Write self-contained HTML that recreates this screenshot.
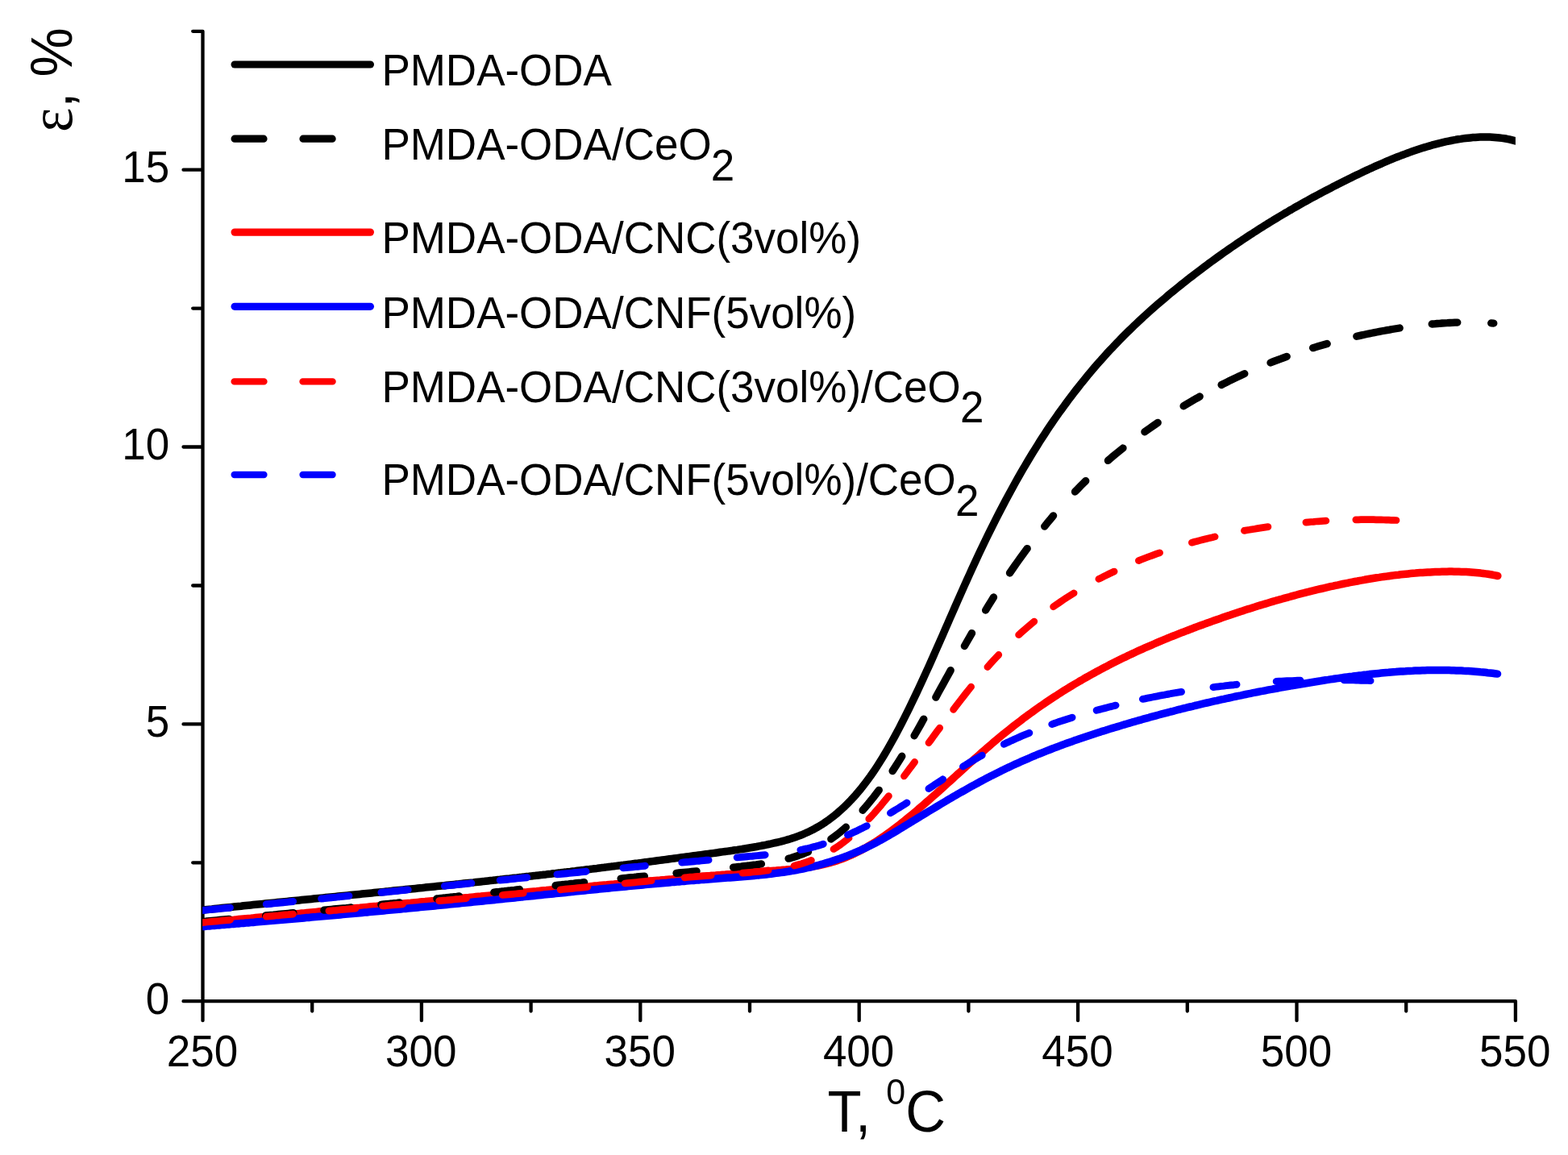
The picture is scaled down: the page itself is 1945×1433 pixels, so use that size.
<!DOCTYPE html>
<html lang="en"><head><meta charset="utf-8"><title>Thermomechanical curves</title>
<style>html,body{margin:0;padding:0;background:#fff}body{width:1945px;height:1433px;overflow:hidden}svg{display:block}text{font-family:"Liberation Sans",Arial,Helvetica,sans-serif;fill:#000}.sym{font-family:"Liberation Serif","DejaVu Serif",serif}</style></head><body>
<svg xmlns="http://www.w3.org/2000/svg" width="1945" height="1433" viewBox="0 0 1945 1433">
<rect x="0" y="0" width="1945" height="1433" fill="#fff"/>
<defs><clipPath id="plot"><rect x="251.2" y="0" width="1628.7" height="1433"/></clipPath></defs>
<path d="M251.5 38.8 L251.5 1242.2 M251.5 1242.2 L1879.9 1242.2 M251.5 1242.2 L251.5 1266.2 M387.2 1242.2 L387.2 1254.5 M522.9 1242.2 L522.9 1266.2 M658.6 1242.2 L658.6 1254.5 M794.3 1242.2 L794.3 1266.2 M930.0 1242.2 L930.0 1254.5 M1065.7 1242.2 L1065.7 1266.2 M1201.4 1242.2 L1201.4 1254.5 M1337.1 1242.2 L1337.1 1266.2 M1472.8 1242.2 L1472.8 1254.5 M1608.5 1242.2 L1608.5 1266.2 M1744.2 1242.2 L1744.2 1254.5 M1879.9 1242.2 L1879.9 1266.2 M251.5 1242.2 L227.5 1242.2 M251.5 1070.3 L239.2 1070.3 M251.5 898.4 L227.5 898.4 M251.5 726.5 L239.2 726.5 M251.5 554.5 L227.5 554.5 M251.5 382.6 L239.2 382.6 M251.5 210.7 L227.5 210.7 M251.5 38.8 L239.2 38.8" fill="none" stroke="#000" stroke-width="4.30" stroke-linecap="round" stroke-linejoin="round"/>
<g clip-path="url(#plot)" fill="none" stroke-linecap="round" stroke-linejoin="round">
<path d="M245.0 1129.7L248.0 1129.4L251.0 1129.1L254.0 1128.8L257.0 1128.5L260.0 1128.2L263.0 1127.9L266.0 1127.5L269.0 1127.2L272.0 1126.9L275.0 1126.6L278.0 1126.3L281.0 1126.0L284.0 1125.7L287.0 1125.4L290.0 1125.1L293.0 1124.8L296.0 1124.5L299.0 1124.2L302.0 1123.8L305.0 1123.5L308.0 1123.2L311.0 1122.9L314.0 1122.6L317.0 1122.3L320.0 1122.0L323.0 1121.7L326.0 1121.4L329.1 1121.1L332.1 1120.8L335.1 1120.5L338.1 1120.2L341.1 1119.9L344.1 1119.6L347.1 1119.3L350.1 1119.0L353.1 1118.7L356.1 1118.4L359.1 1118.1L362.1 1117.8L365.1 1117.5L368.1 1117.2L371.1 1116.9L374.1 1116.6L377.1 1116.3L380.1 1116.0L383.1 1115.7L386.1 1115.4L389.1 1115.1L392.1 1114.8L395.1 1114.5L398.1 1114.2L401.1 1113.9L404.1 1113.6L407.1 1113.3L410.1 1113.0L413.1 1112.7L416.1 1112.4L419.1 1112.1L422.1 1111.8L425.1 1111.5L428.1 1111.2L431.1 1110.9L434.1 1110.6L437.1 1110.3L440.1 1110.0L443.1 1109.7L446.1 1109.4L449.1 1109.1L452.1 1108.8L455.1 1108.5L458.1 1108.2L461.1 1107.9L464.1 1107.6L467.1 1107.3L470.1 1107.0L473.1 1106.7L476.1 1106.4L479.1 1106.1L482.1 1105.8L485.1 1105.4L488.1 1105.1L491.1 1104.8L494.2 1104.5L497.2 1104.2L500.2 1103.9L503.2 1103.6L506.2 1103.3L509.2 1103.0L512.2 1102.7L515.2 1102.4L518.2 1102.1L521.2 1101.8L524.2 1101.5L527.2 1101.1L530.2 1100.8L533.2 1100.5L536.2 1100.2L539.2 1099.9L542.2 1099.6L545.2 1099.3L548.2 1099.0L551.2 1098.7L554.2 1098.3L557.2 1098.0L560.2 1097.7L563.2 1097.4L566.2 1097.1L569.2 1096.8L572.2 1096.4L575.2 1096.1L578.2 1095.8L581.2 1095.5L584.2 1095.2L587.2 1094.9L590.2 1094.5L593.2 1094.2L596.2 1093.9L599.2 1093.6L602.2 1093.2L605.2 1092.9L608.2 1092.6L611.2 1092.3L614.2 1091.9L617.2 1091.6L620.2 1091.3L623.2 1090.9L626.2 1090.6L629.2 1090.3L632.2 1090.0L635.2 1089.6L638.2 1089.3L641.2 1089.0L644.2 1088.6L647.2 1088.3L650.2 1087.9L653.2 1087.6L656.2 1087.3L659.3 1086.9L662.3 1086.6L665.3 1086.2L668.3 1085.9L671.3 1085.6L674.3 1085.2L677.3 1084.9L680.3 1084.5L683.3 1084.2L686.3 1083.8L689.3 1083.5L692.3 1083.1L695.3 1082.8L698.3 1082.4L701.3 1082.1L704.3 1081.7L707.3 1081.4L710.3 1081.0L713.3 1080.7L716.3 1080.3L719.3 1079.9L722.3 1079.6L725.3 1079.2L728.3 1078.8L731.3 1078.5L734.3 1078.1L737.3 1077.7L740.3 1077.4L743.3 1077.0L746.3 1076.6L749.3 1076.3L752.3 1075.9L755.3 1075.5L758.3 1075.1L761.3 1074.8L764.3 1074.4L767.3 1074.0L770.3 1073.6L773.3 1073.3L776.3 1072.9L779.3 1072.5L782.3 1072.1L785.3 1071.7L788.3 1071.3L791.3 1071.0L794.3 1070.6L797.3 1070.2L800.3 1069.8L803.3 1069.4L806.3 1069.0L809.3 1068.6L812.3 1068.2L815.3 1067.8L818.3 1067.4L821.4 1067.0L824.4 1066.6L827.4 1066.2L830.4 1065.8L833.4 1065.4L836.4 1065.0L839.4 1064.6L842.4 1064.2L845.4 1063.8L848.4 1063.4L851.4 1063.0L854.4 1062.6L857.4 1062.2L860.4 1061.8L863.4 1061.4L866.4 1061.0L869.4 1060.6L872.4 1060.2L875.4 1059.8L878.4 1059.4L881.4 1059.0L884.4 1058.6L887.4 1058.2L890.4 1057.8L893.4 1057.3L896.4 1056.9L899.4 1056.5L902.4 1056.1L905.4 1055.7L908.4 1055.3L911.4 1054.8L914.4 1054.4L917.4 1053.9L920.4 1053.5L923.4 1053.0L926.4 1052.5L929.4 1052.0L932.4 1051.5L935.4 1051.0L938.4 1050.5L941.4 1049.9L944.4 1049.3L947.4 1048.8L950.4 1048.2L953.4 1047.5L956.4 1046.9L959.4 1046.2L962.4 1045.5L965.4 1044.8L968.4 1044.1L971.4 1043.3L974.4 1042.5L977.4 1041.6L980.4 1040.7L983.4 1039.7L986.5 1038.7L989.5 1037.6L992.5 1036.5L995.5 1035.3L998.5 1034.0L1001.5 1032.7L1004.5 1031.3L1007.5 1029.8L1010.5 1028.2L1013.5 1026.5L1016.5 1024.8L1019.5 1022.9L1022.5 1021.0L1025.5 1018.9L1028.5 1016.8L1031.5 1014.5L1034.5 1012.2L1037.5 1009.8L1040.5 1007.2L1043.5 1004.5L1046.5 1001.8L1049.5 998.9L1052.5 995.9L1055.5 992.8L1058.5 989.5L1061.5 986.2L1064.5 982.7L1067.5 979.1L1070.5 975.3L1073.5 971.4L1076.5 967.4L1079.5 963.3L1082.5 959.0L1085.5 954.6L1088.5 950.0L1091.5 945.3L1094.5 940.5L1097.5 935.5L1100.5 930.4L1103.5 925.2L1106.5 919.8L1109.5 914.4L1112.5 908.8L1115.5 903.1L1118.5 897.3L1121.5 891.4L1124.5 885.4L1127.5 879.3L1130.5 873.2L1133.5 866.9L1136.5 860.6L1139.5 854.2L1142.5 847.7L1145.5 841.2L1148.5 834.6L1151.6 827.9L1154.6 821.2L1157.6 814.5L1160.6 807.7L1163.6 800.9L1166.6 794.1L1169.6 787.3L1172.6 780.4L1175.6 773.6L1178.6 766.7L1181.6 759.9L1184.6 753.0L1187.6 746.2L1190.6 739.4L1193.6 732.6L1196.6 725.9L1199.6 719.2L1202.6 712.6L1205.6 706.0L1208.6 699.5L1211.6 693.0L1214.6 686.6L1217.6 680.3L1220.6 674.0L1223.6 667.8L1226.6 661.7L1229.6 655.6L1232.6 649.6L1235.6 643.6L1238.6 637.8L1241.6 632.0L1244.6 626.2L1247.6 620.5L1250.6 614.9L1253.6 609.4L1256.6 603.9L1259.6 598.5L1262.6 593.2L1265.6 587.9L1268.6 582.7L1271.6 577.6L1274.6 572.5L1277.6 567.5L1280.6 562.5L1283.6 557.7L1286.6 552.9L1289.6 548.1L1292.6 543.4L1295.6 538.8L1298.6 534.2L1301.6 529.7L1304.6 525.3L1307.6 520.9L1310.6 516.6L1313.6 512.3L1316.7 508.1L1319.7 504.0L1322.7 499.9L1325.7 495.8L1328.7 491.8L1331.7 487.9L1334.7 484.0L1337.7 480.2L1340.7 476.4L1343.7 472.7L1346.7 469.0L1349.7 465.3L1352.7 461.7L1355.7 458.2L1358.7 454.7L1361.7 451.2L1364.7 447.8L1367.7 444.5L1370.7 441.1L1373.7 437.8L1376.7 434.6L1379.7 431.4L1382.7 428.2L1385.7 425.1L1388.7 422.0L1391.7 418.9L1394.7 415.9L1397.7 412.9L1400.7 410.0L1403.7 407.1L1406.7 404.2L1409.7 401.3L1412.7 398.5L1415.7 395.7L1418.7 392.9L1421.7 390.2L1424.7 387.5L1427.7 384.8L1430.7 382.2L1433.7 379.5L1436.7 376.9L1439.7 374.3L1442.7 371.8L1445.7 369.3L1448.7 366.7L1451.7 364.2L1454.7 361.8L1457.7 359.3L1460.7 356.9L1463.7 354.5L1466.7 352.0L1469.7 349.7L1472.7 347.3L1475.7 344.9L1478.8 342.6L1481.8 340.3L1484.8 338.0L1487.8 335.7L1490.8 333.4L1493.8 331.2L1496.8 328.9L1499.8 326.7L1502.8 324.5L1505.8 322.3L1508.8 320.1L1511.8 318.0L1514.8 315.8L1517.8 313.7L1520.8 311.6L1523.8 309.5L1526.8 307.4L1529.8 305.4L1532.8 303.3L1535.8 301.3L1538.8 299.3L1541.8 297.2L1544.8 295.3L1547.8 293.3L1550.8 291.3L1553.8 289.4L1556.8 287.4L1559.8 285.5L1562.8 283.6L1565.8 281.7L1568.8 279.8L1571.8 277.9L1574.8 276.1L1577.8 274.2L1580.8 272.4L1583.8 270.6L1586.8 268.8L1589.8 267.0L1592.8 265.2L1595.8 263.5L1598.8 261.7L1601.8 260.0L1604.8 258.2L1607.8 256.5L1610.8 254.8L1613.8 253.1L1616.8 251.4L1619.8 249.8L1622.8 248.1L1625.8 246.4L1628.8 244.8L1631.8 243.2L1634.8 241.6L1637.8 240.0L1640.8 238.4L1643.9 236.8L1646.9 235.2L1649.9 233.7L1652.9 232.1L1655.9 230.6L1658.9 229.0L1661.9 227.5L1664.9 226.0L1667.9 224.5L1670.9 223.0L1673.9 221.5L1676.9 220.1L1679.9 218.6L1682.9 217.1L1685.9 215.7L1688.9 214.3L1691.9 212.8L1694.9 211.4L1697.9 210.0L1700.9 208.7L1703.9 207.3L1706.9 205.9L1709.9 204.6L1712.9 203.3L1715.9 202.0L1718.9 200.7L1721.9 199.4L1724.9 198.2L1727.9 196.9L1730.9 195.7L1733.9 194.5L1736.9 193.4L1739.9 192.2L1742.9 191.1L1745.9 190.0L1748.9 188.9L1751.9 187.8L1754.9 186.8L1757.9 185.8L1760.9 184.8L1763.9 183.8L1766.9 182.9L1769.9 182.0L1772.9 181.1L1775.9 180.2L1778.9 179.4L1781.9 178.6L1784.9 177.8L1787.9 177.1L1790.9 176.4L1793.9 175.7L1796.9 175.1L1799.9 174.5L1802.9 173.9L1805.9 173.3L1809.0 172.8L1812.0 172.4L1815.0 171.9L1818.0 171.5L1821.0 171.2L1824.0 170.9L1827.0 170.6L1830.0 170.4L1833.0 170.2L1836.0 170.1L1839.0 170.0L1842.0 170.0L1845.0 170.0L1848.0 170.1L1851.0 170.2L1854.0 170.4L1857.0 170.7L1860.0 171.0L1863.0 171.4L1866.0 171.8L1869.0 172.3L1872.0 172.9L1875.0 173.6L1878.0 174.3L1881.0 175.1L1884.0 175.9L1887.0 176.8L1890.0 177.9" stroke="#000" stroke-width="9.50"/>
<path d="M245.0 1145.4L248.0 1145.2L251.0 1144.9L254.0 1144.6L257.0 1144.3L260.0 1144.0L263.0 1143.7L266.0 1143.4L269.0 1143.2L272.0 1142.9L275.0 1142.6L278.0 1142.3L281.0 1142.0L284.0 1141.7L287.0 1141.4L290.1 1141.2L293.1 1140.9L296.1 1140.6L299.1 1140.3L302.1 1140.0L305.1 1139.7L308.1 1139.4L311.1 1139.2L314.1 1138.9L317.1 1138.6L320.1 1138.3L323.1 1138.0L326.1 1137.7L329.1 1137.4L332.1 1137.2L335.1 1136.9L338.1 1136.6L341.1 1136.3L344.1 1136.0L347.1 1135.7L350.1 1135.4L353.1 1135.2L356.1 1134.9L359.1 1134.6L362.1 1134.3L365.1 1134.0L368.1 1133.7L371.1 1133.4L374.1 1133.1L377.2 1132.9L380.2 1132.6L383.2 1132.3L386.2 1132.0L389.2 1131.7L392.2 1131.4L395.2 1131.1L398.2 1130.8L401.2 1130.6L404.2 1130.3L407.2 1130.0L410.2 1129.7L413.2 1129.4L416.2 1129.1L419.2 1128.8L422.2 1128.6L425.2 1128.3L428.2 1128.0L431.2 1127.7L434.2 1127.4L437.2 1127.1L440.2 1126.8L443.2 1126.5L446.2 1126.3L449.2 1126.0L452.2 1125.7L455.2 1125.4L458.2 1125.1L461.2 1124.8L464.3 1124.5L467.3 1124.3L470.3 1124.0L473.3 1123.7L476.3 1123.4L479.3 1123.1L482.3 1122.8L485.3 1122.5L488.3 1122.3L491.3 1122.0L494.3 1121.7L497.3 1121.4L500.3 1121.1L503.3 1120.8L506.3 1120.5L509.3 1120.3L512.3 1120.0L515.3 1119.7L518.3 1119.4L521.3 1119.1L524.3 1118.8L527.3 1118.6L530.3 1118.3L533.3 1118.0L536.3 1117.7L539.3 1117.4L542.3 1117.1L545.3 1116.9L548.3 1116.6L551.4 1116.3L554.4 1116.0L557.4 1115.7L560.4 1115.4L563.4 1115.2L566.4 1114.9L569.4 1114.6L572.4 1114.3L575.4 1114.0L578.4 1113.7L581.4 1113.5L584.4 1113.2L587.4 1112.9L590.4 1112.6L593.4 1112.3L596.4 1112.1L599.4 1111.8L602.4 1111.5L605.4 1111.2L608.4 1110.9L611.4 1110.7L614.4 1110.4L617.4 1110.1L620.4 1109.8L623.4 1109.5L626.4 1109.3L629.4 1109.0L632.4 1108.7L635.4 1108.4L638.5 1108.2L641.5 1107.9L644.5 1107.6L647.5 1107.3L650.5 1107.0L653.5 1106.8L656.5 1106.5L659.5 1106.2L662.5 1105.9L665.5 1105.7L668.5 1105.4L671.5 1105.1L674.5 1104.8L677.5 1104.6L680.5 1104.3L683.5 1104.0L686.5 1103.7L689.5 1103.5L692.5 1103.2L695.5 1102.9L698.5 1102.6L701.5 1102.4L704.5 1102.1L707.5 1101.8L710.5 1101.6L713.5 1101.3L716.5 1101.0L719.5 1100.7L722.5 1100.5L725.6 1100.2L728.6 1099.9L731.6 1099.7L734.6 1099.4L737.6 1099.1L740.6 1098.9L743.6 1098.6L746.6 1098.3L749.6 1098.0L752.6 1097.8L755.6 1097.5L758.6 1097.2L761.6 1097.0L764.6 1096.7L767.6 1096.4L770.6 1096.2L773.6 1095.9L776.6 1095.6L779.6 1095.4L782.6 1095.1L785.6 1094.9L788.6 1094.6L791.6 1094.3L794.6 1094.1L797.6 1093.8L800.6 1093.5L803.6 1093.3L806.6 1093.0L809.6 1092.8L812.7 1092.5L815.7 1092.2L818.7 1092.0L821.7 1091.7L824.7 1091.5L827.7 1091.2L830.7 1090.9L833.7 1090.7L836.7 1090.4L839.7 1090.2L842.7 1089.9L845.7 1089.6L848.7 1089.4L851.7 1089.1L854.7 1088.9L857.7 1088.6L860.7 1088.4L863.7 1088.1L866.7 1087.9L869.7 1087.6L872.7 1087.3L875.7 1087.1L878.7 1086.8L881.7 1086.6L884.7 1086.3L887.7 1086.1L890.7 1085.8L893.7 1085.6L896.7 1085.3L899.8 1085.1L902.8 1084.8L905.8 1084.6L908.8 1084.3L911.8 1084.1L914.8 1083.8L917.8 1083.6L920.8 1083.4L923.8 1083.1L926.8 1082.9L929.8 1082.6L932.8 1082.4L935.8 1082.1L938.8 1081.9L941.8 1081.6L944.8 1081.4L947.8 1081.2L950.8 1080.9L953.8 1080.7L956.8 1080.4L959.8 1080.2L962.8 1080.0L965.8 1079.7L968.8 1079.5L971.8 1079.2L974.8 1079.0L977.8 1078.7L980.8 1078.5L983.8 1078.2L986.9 1077.9L989.9 1077.6L992.9 1077.2L995.9 1076.9L998.9 1076.5L1001.9 1076.1L1004.9 1075.6L1007.9 1075.2L1010.9 1074.6L1013.9 1074.1L1016.9 1073.5L1019.9 1072.9L1022.9 1072.2L1025.9 1071.4L1028.9 1070.7L1031.9 1069.8L1034.9 1068.9L1037.9 1068.0L1040.9 1066.9L1043.9 1065.8L1046.9 1064.7L1049.9 1063.5L1052.9 1062.2L1055.9 1060.9L1058.9 1059.5L1061.9 1058.0L1064.9 1056.5L1067.9 1055.0L1070.9 1053.3L1074.0 1051.7L1077.0 1049.9L1080.0 1048.1L1083.0 1046.3L1086.0 1044.4L1089.0 1042.5L1092.0 1040.5L1095.0 1038.4L1098.0 1036.3L1101.0 1034.2L1104.0 1032.0L1107.0 1029.8L1110.0 1027.5L1113.0 1025.2L1116.0 1022.9L1119.0 1020.6L1122.0 1018.2L1125.0 1015.7L1128.0 1013.3L1131.0 1010.8L1134.0 1008.3L1137.0 1005.8L1140.0 1003.2L1143.0 1000.7L1146.0 998.1L1149.0 995.4L1152.0 992.8L1155.0 990.2L1158.0 987.5L1161.1 984.8L1164.1 982.1L1167.1 979.5L1170.1 976.7L1173.1 974.0L1176.1 971.3L1179.1 968.6L1182.1 965.9L1185.1 963.1L1188.1 960.4L1191.1 957.7L1194.1 955.0L1197.1 952.2L1200.1 949.5L1203.1 946.8L1206.1 944.1L1209.1 941.4L1212.1 938.7L1215.1 936.1L1218.1 933.4L1221.1 930.8L1224.1 928.2L1227.1 925.6L1230.1 923.0L1233.1 920.4L1236.1 917.9L1239.1 915.4L1242.1 912.9L1245.1 910.4L1248.2 908.0L1251.2 905.6L1254.2 903.2L1257.2 900.8L1260.2 898.5L1263.2 896.2L1266.2 893.9L1269.2 891.6L1272.2 889.4L1275.2 887.2L1278.2 885.0L1281.2 882.8L1284.2 880.7L1287.2 878.5L1290.2 876.4L1293.2 874.4L1296.2 872.3L1299.2 870.3L1302.2 868.3L1305.2 866.3L1308.2 864.3L1311.2 862.4L1314.2 860.4L1317.2 858.5L1320.2 856.6L1323.2 854.8L1326.2 852.9L1329.2 851.1L1332.2 849.3L1335.3 847.5L1338.3 845.7L1341.3 844.0L1344.3 842.2L1347.3 840.5L1350.3 838.8L1353.3 837.1L1356.3 835.5L1359.3 833.8L1362.3 832.2L1365.3 830.6L1368.3 829.0L1371.3 827.4L1374.3 825.9L1377.3 824.3L1380.3 822.8L1383.3 821.3L1386.3 819.8L1389.3 818.3L1392.3 816.8L1395.3 815.4L1398.3 813.9L1401.3 812.5L1404.3 811.1L1407.3 809.7L1410.3 808.3L1413.3 806.9L1416.3 805.6L1419.3 804.2L1422.4 802.9L1425.4 801.6L1428.4 800.3L1431.4 799.0L1434.4 797.7L1437.4 796.4L1440.4 795.1L1443.4 793.9L1446.4 792.7L1449.4 791.4L1452.4 790.2L1455.4 789.0L1458.4 787.8L1461.4 786.6L1464.4 785.4L1467.4 784.3L1470.4 783.1L1473.4 782.0L1476.4 780.8L1479.4 779.7L1482.4 778.5L1485.4 777.4L1488.4 776.3L1491.4 775.2L1494.4 774.1L1497.4 773.0L1500.4 772.0L1503.4 770.9L1506.4 769.8L1509.5 768.7L1512.5 767.7L1515.5 766.6L1518.5 765.6L1521.5 764.6L1524.5 763.6L1527.5 762.5L1530.5 761.5L1533.5 760.5L1536.5 759.5L1539.5 758.5L1542.5 757.6L1545.5 756.6L1548.5 755.6L1551.5 754.7L1554.5 753.7L1557.5 752.8L1560.5 751.8L1563.5 750.9L1566.5 750.0L1569.5 749.1L1572.5 748.2L1575.5 747.3L1578.5 746.4L1581.5 745.5L1584.5 744.7L1587.5 743.8L1590.5 743.0L1593.5 742.1L1596.6 741.3L1599.6 740.5L1602.6 739.6L1605.6 738.8L1608.6 738.0L1611.6 737.2L1614.6 736.4L1617.6 735.7L1620.6 734.9L1623.6 734.2L1626.6 733.4L1629.6 732.7L1632.6 731.9L1635.6 731.2L1638.6 730.5L1641.6 729.8L1644.6 729.1L1647.6 728.4L1650.6 727.7L1653.6 727.1L1656.6 726.4L1659.6 725.8L1662.6 725.1L1665.6 724.5L1668.6 723.9L1671.6 723.3L1674.6 722.7L1677.6 722.1L1680.6 721.5L1683.7 721.0L1686.7 720.4L1689.7 719.9L1692.7 719.3L1695.7 718.8L1698.7 718.3L1701.7 717.8L1704.7 717.3L1707.7 716.8L1710.7 716.4L1713.7 715.9L1716.7 715.5L1719.7 715.1L1722.7 714.7L1725.7 714.3L1728.7 713.9L1731.7 713.5L1734.7 713.2L1737.7 712.8L1740.7 712.5L1743.7 712.2L1746.7 711.9L1749.7 711.6L1752.7 711.3L1755.7 711.1L1758.7 710.8L1761.7 710.6L1764.7 710.4L1767.7 710.2L1770.8 710.0L1773.8 709.9L1776.8 709.7L1779.8 709.6L1782.8 709.5L1785.8 709.4L1788.8 709.3L1791.8 709.2L1794.8 709.2L1797.8 709.1L1800.8 709.1L1803.8 709.2L1806.8 709.2L1809.8 709.3L1812.8 709.4L1815.8 709.5L1818.8 709.6L1821.8 709.8L1824.8 710.0L1827.8 710.2L1830.8 710.5L1833.8 710.8L1836.8 711.1L1839.8 711.5L1842.8 711.9L1845.8 712.3L1848.8 712.8L1851.8 713.3L1854.8 713.9L1857.8 714.5" stroke="#f00" stroke-width="9.50"/>
<path d="M245.0 1150.1L248.0 1149.9L251.0 1149.6L254.0 1149.4L257.0 1149.1L260.0 1148.9L263.0 1148.6L266.0 1148.4L269.0 1148.1L272.0 1147.9L275.0 1147.6L278.0 1147.4L281.0 1147.1L284.0 1146.9L287.0 1146.6L290.0 1146.4L293.0 1146.1L296.0 1145.9L299.0 1145.6L302.1 1145.4L305.1 1145.1L308.1 1144.9L311.1 1144.6L314.1 1144.4L317.1 1144.1L320.1 1143.8L323.1 1143.6L326.1 1143.3L329.1 1143.1L332.1 1142.8L335.1 1142.6L338.1 1142.3L341.1 1142.0L344.1 1141.8L347.1 1141.5L350.1 1141.3L353.1 1141.0L356.1 1140.7L359.1 1140.5L362.1 1140.2L365.1 1140.0L368.1 1139.7L371.1 1139.4L374.1 1139.2L377.1 1138.9L380.1 1138.6L383.1 1138.4L386.1 1138.1L389.1 1137.8L392.1 1137.6L395.1 1137.3L398.1 1137.0L401.1 1136.8L404.1 1136.5L407.1 1136.2L410.1 1136.0L413.2 1135.7L416.2 1135.4L419.2 1135.2L422.2 1134.9L425.2 1134.6L428.2 1134.3L431.2 1134.1L434.2 1133.8L437.2 1133.5L440.2 1133.2L443.2 1133.0L446.2 1132.7L449.2 1132.4L452.2 1132.1L455.2 1131.9L458.2 1131.6L461.2 1131.3L464.2 1131.0L467.2 1130.8L470.2 1130.5L473.2 1130.2L476.2 1129.9L479.2 1129.6L482.2 1129.3L485.2 1129.1L488.2 1128.8L491.2 1128.5L494.2 1128.2L497.2 1127.9L500.2 1127.6L503.2 1127.4L506.2 1127.1L509.2 1126.8L512.2 1126.5L515.2 1126.2L518.2 1125.9L521.2 1125.6L524.3 1125.3L527.3 1125.0L530.3 1124.8L533.3 1124.5L536.3 1124.2L539.3 1123.9L542.3 1123.6L545.3 1123.3L548.3 1123.0L551.3 1122.7L554.3 1122.4L557.3 1122.1L560.3 1121.8L563.3 1121.5L566.3 1121.2L569.3 1120.9L572.3 1120.6L575.3 1120.3L578.3 1120.0L581.3 1119.7L584.3 1119.4L587.3 1119.1L590.3 1118.8L593.3 1118.5L596.3 1118.2L599.3 1117.9L602.3 1117.6L605.3 1117.3L608.3 1117.0L611.3 1116.7L614.3 1116.4L617.3 1116.0L620.3 1115.7L623.3 1115.4L626.3 1115.1L629.3 1114.8L632.3 1114.5L635.4 1114.2L638.4 1113.9L641.4 1113.6L644.4 1113.3L647.4 1112.9L650.4 1112.6L653.4 1112.3L656.4 1112.0L659.4 1111.7L662.4 1111.4L665.4 1111.1L668.4 1110.8L671.4 1110.5L674.4 1110.1L677.4 1109.8L680.4 1109.5L683.4 1109.2L686.4 1108.9L689.4 1108.6L692.4 1108.3L695.4 1108.0L698.4 1107.7L701.4 1107.4L704.4 1107.1L707.4 1106.8L710.4 1106.4L713.4 1106.1L716.4 1105.8L719.4 1105.5L722.4 1105.2L725.4 1104.9L728.4 1104.6L731.4 1104.3L734.4 1104.0L737.4 1103.7L740.4 1103.4L743.4 1103.1L746.5 1102.8L749.5 1102.5L752.5 1102.2L755.5 1101.9L758.5 1101.6L761.5 1101.3L764.5 1101.0L767.5 1100.7L770.5 1100.5L773.5 1100.2L776.5 1099.9L779.5 1099.6L782.5 1099.3L785.5 1099.0L788.5 1098.7L791.5 1098.5L794.5 1098.2L797.5 1097.9L800.5 1097.6L803.5 1097.3L806.5 1097.1L809.5 1096.8L812.5 1096.5L815.5 1096.2L818.5 1096.0L821.5 1095.7L824.5 1095.4L827.5 1095.2L830.5 1094.9L833.5 1094.6L836.5 1094.4L839.5 1094.1L842.5 1093.9L845.5 1093.6L848.5 1093.4L851.5 1093.1L854.5 1092.8L857.6 1092.6L860.6 1092.4L863.6 1092.1L866.6 1091.9L869.6 1091.6L872.6 1091.4L875.6 1091.2L878.6 1090.9L881.6 1090.7L884.6 1090.5L887.6 1090.2L890.6 1090.0L893.6 1089.8L896.6 1089.6L899.6 1089.3L902.6 1089.1L905.6 1088.9L908.6 1088.7L911.6 1088.4L914.6 1088.2L917.6 1088.0L920.6 1087.7L923.6 1087.5L926.6 1087.2L929.6 1087.0L932.6 1086.7L935.6 1086.4L938.6 1086.1L941.6 1085.9L944.6 1085.5L947.6 1085.2L950.6 1084.9L953.6 1084.6L956.6 1084.2L959.6 1083.8L962.6 1083.4L965.6 1083.0L968.7 1082.6L971.7 1082.2L974.7 1081.7L977.7 1081.3L980.7 1080.8L983.7 1080.2L986.7 1079.7L989.7 1079.2L992.7 1078.6L995.7 1078.0L998.7 1077.3L1001.7 1076.7L1004.7 1076.0L1007.7 1075.3L1010.7 1074.5L1013.7 1073.8L1016.7 1073.0L1019.7 1072.2L1022.7 1071.3L1025.7 1070.4L1028.7 1069.5L1031.7 1068.6L1034.7 1067.6L1037.7 1066.6L1040.7 1065.6L1043.7 1064.5L1046.7 1063.4L1049.7 1062.3L1052.7 1061.1L1055.7 1059.9L1058.7 1058.7L1061.7 1057.4L1064.7 1056.1L1067.7 1054.8L1070.7 1053.4L1073.7 1052.0L1076.7 1050.5L1079.8 1049.0L1082.8 1047.5L1085.8 1046.0L1088.8 1044.4L1091.8 1042.7L1094.8 1041.1L1097.8 1039.4L1100.8 1037.7L1103.8 1035.9L1106.8 1034.2L1109.8 1032.4L1112.8 1030.6L1115.8 1028.8L1118.8 1027.0L1121.8 1025.1L1124.8 1023.3L1127.8 1021.5L1130.8 1019.6L1133.8 1017.8L1136.8 1015.9L1139.8 1014.1L1142.8 1012.3L1145.8 1010.4L1148.8 1008.6L1151.8 1006.8L1154.8 1005.0L1157.8 1003.2L1160.8 1001.4L1163.8 999.6L1166.8 997.8L1169.8 996.0L1172.8 994.2L1175.8 992.4L1178.8 990.7L1181.8 988.9L1184.8 987.2L1187.8 985.4L1190.9 983.7L1193.9 982.0L1196.9 980.3L1199.9 978.6L1202.9 976.9L1205.9 975.2L1208.9 973.6L1211.9 972.0L1214.9 970.3L1217.9 968.7L1220.9 967.1L1223.9 965.5L1226.9 964.0L1229.9 962.4L1232.9 960.9L1235.9 959.4L1238.9 957.9L1241.9 956.4L1244.9 955.0L1247.9 953.5L1250.9 952.1L1253.9 950.7L1256.9 949.3L1259.9 947.9L1262.9 946.6L1265.9 945.2L1268.9 943.9L1271.9 942.6L1274.9 941.3L1277.9 940.0L1280.9 938.7L1283.9 937.5L1286.9 936.2L1289.9 935.0L1292.9 933.8L1295.9 932.6L1298.9 931.4L1302.0 930.2L1305.0 929.0L1308.0 927.9L1311.0 926.8L1314.0 925.6L1317.0 924.5L1320.0 923.4L1323.0 922.3L1326.0 921.2L1329.0 920.2L1332.0 919.1L1335.0 918.1L1338.0 917.0L1341.0 916.0L1344.0 915.0L1347.0 914.0L1350.0 913.0L1353.0 912.0L1356.0 911.0L1359.0 910.0L1362.0 909.0L1365.0 908.1L1368.0 907.1L1371.0 906.2L1374.0 905.2L1377.0 904.3L1380.0 903.4L1383.0 902.5L1386.0 901.6L1389.0 900.7L1392.0 899.8L1395.0 898.9L1398.0 898.0L1401.0 897.1L1404.0 896.2L1407.0 895.4L1410.0 894.5L1413.1 893.6L1416.1 892.8L1419.1 891.9L1422.1 891.1L1425.1 890.3L1428.1 889.4L1431.1 888.6L1434.1 887.8L1437.1 887.0L1440.1 886.2L1443.1 885.4L1446.1 884.6L1449.1 883.8L1452.1 883.0L1455.1 882.3L1458.1 881.5L1461.1 880.7L1464.1 880.0L1467.1 879.2L1470.1 878.5L1473.1 877.7L1476.1 877.0L1479.1 876.3L1482.1 875.5L1485.1 874.8L1488.1 874.1L1491.1 873.4L1494.1 872.7L1497.1 872.0L1500.1 871.3L1503.1 870.6L1506.1 869.9L1509.1 869.3L1512.1 868.6L1515.1 867.9L1518.1 867.3L1521.1 866.6L1524.2 866.0L1527.2 865.3L1530.2 864.7L1533.2 864.0L1536.2 863.4L1539.2 862.8L1542.2 862.1L1545.2 861.5L1548.2 860.9L1551.2 860.3L1554.2 859.7L1557.2 859.1L1560.2 858.5L1563.2 857.9L1566.2 857.4L1569.2 856.8L1572.2 856.2L1575.2 855.6L1578.2 855.1L1581.2 854.5L1584.2 854.0L1587.2 853.4L1590.2 852.9L1593.2 852.3L1596.2 851.8L1599.2 851.3L1602.2 850.7L1605.2 850.2L1608.2 849.7L1611.2 849.2L1614.2 848.7L1617.2 848.2L1620.2 847.7L1623.2 847.2L1626.2 846.7L1629.2 846.2L1632.2 845.7L1635.3 845.2L1638.3 844.8L1641.3 844.3L1644.3 843.8L1647.3 843.4L1650.3 842.9L1653.3 842.5L1656.3 842.0L1659.3 841.6L1662.3 841.2L1665.3 840.8L1668.3 840.3L1671.3 839.9L1674.3 839.5L1677.3 839.2L1680.3 838.8L1683.3 838.4L1686.3 838.0L1689.3 837.7L1692.3 837.3L1695.3 837.0L1698.3 836.6L1701.3 836.3L1704.3 836.0L1707.3 835.7L1710.3 835.4L1713.3 835.1L1716.3 834.8L1719.3 834.5L1722.3 834.3L1725.3 834.0L1728.3 833.8L1731.3 833.6L1734.3 833.3L1737.3 833.1L1740.3 832.9L1743.3 832.8L1746.4 832.6L1749.4 832.4L1752.4 832.3L1755.4 832.1L1758.4 832.0L1761.4 831.9L1764.4 831.8L1767.4 831.7L1770.4 831.6L1773.4 831.6L1776.4 831.5L1779.4 831.5L1782.4 831.5L1785.4 831.5L1788.4 831.5L1791.4 831.5L1794.4 831.6L1797.4 831.6L1800.4 831.7L1803.4 831.8L1806.4 831.9L1809.4 832.0L1812.4 832.1L1815.4 832.3L1818.4 832.4L1821.4 832.6L1824.4 832.8L1827.4 833.0L1830.4 833.2L1833.4 833.5L1836.4 833.8L1839.4 834.0L1842.4 834.3L1845.4 834.7L1848.4 835.0L1851.4 835.3L1854.4 835.7L1857.5 836.1" stroke="#00f" stroke-width="9.50"/>
<path d="M247.7 1143.9L250.7 1143.6L253.7 1143.3L256.8 1143.0L259.8 1142.7L262.9 1142.4L265.9 1142.1L268.9 1141.8L272.0 1141.5L275.0 1141.2L278.1 1140.9L281.1 1140.6L284.2 1140.3 M329.6 1135.9L332.8 1135.6L335.9 1135.3L339.0 1135.1L342.1 1134.8L345.2 1134.5L348.3 1134.2L351.4 1133.9L354.5 1133.6L357.6 1133.3L360.7 1133.0L363.9 1132.7 M401.9 1129.2L405.0 1128.9L408.0 1128.6L411.1 1128.3L414.1 1128.0L417.1 1127.7L420.2 1127.4L423.2 1127.1L426.2 1126.8L429.3 1126.6L432.3 1126.3L435.4 1126.0 M472.8 1122.3L476.1 1121.9L479.3 1121.6L482.6 1121.3L485.8 1121.0L489.1 1120.6L492.3 1120.3L495.6 1119.9 M541.9 1115.0L544.9 1114.7L548.0 1114.3L551.1 1114.0L554.2 1113.6L557.2 1113.3L560.3 1113.0L563.4 1112.6L566.5 1112.3L569.6 1111.9 M612.8 1107.1L615.9 1106.7L619.1 1106.4L622.2 1106.0L625.4 1105.7L628.5 1105.3L631.7 1105.0L634.9 1104.6L638.0 1104.3L641.2 1103.9L644.4 1103.5 M689.1 1098.6L692.4 1098.2L695.6 1097.8L698.8 1097.5L702.0 1097.1L705.2 1096.8L708.5 1096.4L711.7 1096.1L714.9 1095.7L718.1 1095.4L721.3 1095.1L724.6 1094.7 M770.1 1090.0L773.4 1089.6L776.6 1089.3L779.9 1089.0L783.1 1088.7L786.4 1088.4L789.6 1088.0L792.9 1087.7L796.1 1087.4L799.4 1087.1 M839.0 1083.3L842.2 1083.0L845.3 1082.7L848.5 1082.4L851.6 1082.1L854.7 1081.8L857.9 1081.5L861.0 1081.2L864.1 1080.9 M909.6 1076.2L912.8 1075.8L916.0 1075.4L919.1 1075.1L922.3 1074.7L925.4 1074.3L928.6 1074.0L931.7 1073.6L934.9 1073.2L938.0 1072.8L941.2 1072.3L944.4 1071.9 M978.1 1065.2L981.2 1064.4L984.2 1063.5L987.3 1062.5L990.3 1061.5L993.3 1060.4L996.4 1059.3L999.4 1058.0L1002.5 1056.8 M1030.8 1041.0L1033.9 1038.8L1037.0 1036.5L1040.1 1034.1L1043.2 1031.6L1046.3 1028.9L1049.4 1026.2 M1070.1 1005.3L1073.4 1001.4L1076.8 997.4L1080.2 993.3L1083.6 989.1L1087.0 984.7L1090.3 980.3 M1107.1 956.6L1111.0 950.6L1114.9 944.5L1118.8 938.2 M1134.1 912.8L1138.0 906.0L1141.9 899.1L1145.8 892.1 M1160.8 865.2L1163.8 859.6L1166.9 854.0L1170.0 848.4L1173.1 842.8L1176.2 837.3L1179.2 831.7 M1196.4 801.5L1199.4 796.2L1202.5 790.9L1205.5 785.6 M1222.6 757.1L1225.9 751.7L1229.2 746.3L1232.5 741.0 M1252.5 711.0L1255.6 706.5L1258.7 702.0L1261.8 697.6L1264.9 693.3L1268.0 689.0L1271.1 684.8L1274.2 680.6 M1295.7 653.1L1299.3 648.6L1303.0 644.2L1306.6 639.8 M1333.5 610.1L1336.8 606.7L1340.1 603.3L1343.4 600.0L1346.8 596.7 M1374.4 571.4L1377.5 568.8L1380.6 566.1L1383.7 563.5L1386.8 561.0L1389.9 558.5L1393.0 556.0 M1419.9 535.8L1423.1 533.5L1426.4 531.2L1429.7 528.9L1433.0 526.6L1436.2 524.4 M1468.1 503.8L1471.4 501.8L1474.8 499.8L1478.2 497.8L1481.5 495.8L1484.9 493.9L1488.2 491.9 M1515.1 477.5L1518.3 475.9L1521.5 474.3L1524.7 472.7L1527.9 471.1L1531.0 469.6L1534.2 468.1L1537.5 466.6L1540.6 465.1L1543.8 463.6 M1576.0 450.0L1579.3 448.7L1582.7 447.4L1586.1 446.1L1589.5 444.9L1592.9 443.6L1596.2 442.4 M1628.6 431.7L1632.1 430.6L1635.6 429.5L1639.2 428.5L1642.7 427.5L1646.2 426.5 M1682.8 417.3L1685.9 416.6L1689.0 415.9L1692.2 415.2L1695.3 414.5L1698.5 413.9L1701.6 413.2L1704.8 412.6L1707.9 412.0L1711.1 411.4L1714.2 410.8L1717.4 410.2L1720.5 409.6L1723.7 409.1L1726.8 408.5L1730.0 408.0L1733.1 407.5L1736.2 407.0 M1776.2 402.0L1779.4 401.8L1782.5 401.5L1785.7 401.3L1788.8 401.0L1792.0 400.8L1795.2 400.7L1798.3 400.5L1801.5 400.4L1804.6 400.2L1807.8 400.1 M1849.7 400.9L1852.8 401.1" stroke="#000" stroke-width="9.30"/>
<path d="M247.3 1144.9L250.5 1144.6L253.7 1144.3L256.9 1144.0L260.1 1143.7L263.3 1143.4L266.4 1143.1L269.6 1142.8L272.8 1142.5L276.0 1142.2L279.2 1141.9L282.4 1141.6L285.5 1141.3 M330.2 1137.2L333.3 1136.9L336.3 1136.6L339.4 1136.3L342.4 1136.0L345.4 1135.8L348.5 1135.5L351.5 1135.2L354.5 1134.9L357.6 1134.7L360.6 1134.4L363.6 1134.1 M407.9 1130.1L410.9 1129.8L413.9 1129.5L416.9 1129.3L419.9 1129.0L422.9 1128.7L426.0 1128.4L429.0 1128.2L432.0 1127.9L435.0 1127.6L438.0 1127.3L441.0 1127.1 M474.5 1124.0L477.6 1123.8L480.8 1123.5L483.9 1123.2L487.1 1122.9L490.2 1122.6L493.4 1122.3L496.5 1122.1L499.6 1121.8 M544.6 1117.7L547.7 1117.4L550.8 1117.1L553.8 1116.9L556.9 1116.6L560.0 1116.3L563.0 1116.0L566.1 1115.7L569.2 1115.5L572.2 1115.2L575.3 1114.9L578.4 1114.6 M623.2 1110.5L626.5 1110.2L629.8 1109.9L633.0 1109.6L636.2 1109.3L639.5 1109.0L642.8 1108.7L646.0 1108.4L649.2 1108.1 M695.1 1103.8L698.1 1103.5L701.2 1103.2L704.2 1102.9L707.3 1102.6L710.4 1102.3L713.4 1102.0L716.5 1101.7L719.6 1101.4L722.6 1101.1L725.7 1100.8L728.8 1100.5 M775.1 1096.0L778.1 1095.7L781.1 1095.4L784.1 1095.1L787.1 1094.8L790.1 1094.5L793.1 1094.2L796.1 1093.9L799.1 1093.6L802.1 1093.3L805.1 1093.0L808.1 1092.7 M849.2 1088.8L852.5 1088.5L855.8 1088.2L859.1 1088.0L862.4 1087.7L865.7 1087.4L869.0 1087.2L872.3 1086.9L875.6 1086.6L878.9 1086.4L882.1 1086.2 M921.0 1083.2L924.2 1082.9L927.4 1082.6L930.6 1082.3L933.8 1082.0L937.0 1081.7L940.3 1081.4L943.5 1081.1L946.7 1080.7L949.9 1080.3L953.1 1079.9 M985.1 1074.1L988.2 1073.3L991.2 1072.5L994.3 1071.6L997.3 1070.6L1000.4 1069.6L1003.4 1068.5L1006.4 1067.4 M1034.0 1053.5L1037.2 1051.5L1040.4 1049.4L1043.6 1047.1L1046.7 1044.7L1049.9 1042.3L1053.1 1039.7 M1077.8 1016.1L1080.9 1012.8L1084.0 1009.4L1087.0 1005.9L1090.1 1002.4L1093.2 998.8L1096.2 995.1L1099.3 991.4L1102.4 987.6 M1121.4 963.0L1124.7 958.6L1128.0 954.2L1131.3 949.8L1134.6 945.4 M1152.0 921.6L1155.5 917.0L1158.8 912.3L1162.2 907.7L1165.7 903.1 M1182.6 880.4L1185.8 876.2L1188.9 872.1L1192.0 868.1L1195.2 864.0L1198.3 860.0L1201.4 856.1L1204.6 852.1 M1224.9 827.6L1228.4 823.7L1231.8 819.9L1235.3 816.1L1238.8 812.4 M1263.6 787.7L1266.8 784.8L1270.0 782.0L1273.2 779.2L1276.4 776.4L1279.6 773.7L1282.8 771.1 M1306.6 752.8L1309.8 750.5L1313.0 748.3L1316.2 746.1L1319.3 744.0L1322.5 741.9L1325.7 739.9L1328.9 737.9L1332.1 735.9 M1362.9 718.4L1366.1 716.8L1369.3 715.2L1372.5 713.6L1375.7 712.0L1378.9 710.5L1382.1 709.0 M1412.4 695.6L1415.7 694.3L1419.0 693.0L1422.2 691.8L1425.5 690.5L1428.8 689.3L1432.0 688.1L1435.3 686.9L1438.6 685.8 M1478.4 673.2L1481.6 672.3L1484.8 671.5L1488.0 670.6L1491.2 669.8L1494.3 669.0L1497.5 668.2L1500.7 667.4L1503.9 666.7L1507.1 665.9 M1543.4 658.4L1546.7 657.8L1550.0 657.3L1553.2 656.7L1556.5 656.2L1559.8 655.6L1563.0 655.1L1566.3 654.6L1569.6 654.1L1572.9 653.6 M1619.9 648.1L1623.1 647.8L1626.2 647.5L1629.3 647.3L1632.4 647.0L1635.5 646.8L1638.6 646.6L1641.7 646.4L1644.9 646.2 M1681.8 644.8L1685.0 644.8L1688.1 644.7L1691.2 644.7L1694.4 644.7L1697.5 644.7L1700.6 644.7L1703.8 644.7L1706.9 644.8L1710.0 644.8L1713.2 644.9L1716.3 645.0L1719.4 645.1L1722.6 645.2L1725.7 645.3L1728.8 645.4L1732.0 645.5" stroke="#f00" stroke-width="8.70"/>
<path d="M247.4 1129.8L250.6 1129.5L253.8 1129.2L256.9 1128.9L260.1 1128.6L263.3 1128.3L266.4 1128.0L269.6 1127.7L272.8 1127.4L275.9 1127.1L279.1 1126.8L282.3 1126.5L285.4 1126.2 M330.3 1121.8L333.4 1121.5L336.4 1121.2L339.4 1120.9L342.4 1120.6L345.4 1120.3L348.5 1120.0L351.5 1119.7L354.5 1119.4L357.5 1119.1L360.5 1118.8L363.6 1118.5 M398.6 1115.0L401.8 1114.7L404.9 1114.3L408.0 1114.0L411.1 1113.7L414.2 1113.4L417.4 1113.1L420.5 1112.7L423.6 1112.4L426.7 1112.1L429.8 1111.8L432.9 1111.5 M472.9 1107.3L476.0 1107.0L479.0 1106.7L482.0 1106.4L485.0 1106.1L488.0 1105.8L491.1 1105.5L494.1 1105.2L497.1 1104.8L500.1 1104.5L503.1 1104.2L506.2 1103.9 M551.4 1099.2L554.4 1098.9L557.4 1098.6L560.5 1098.3L563.5 1098.0L566.6 1097.6L569.6 1097.3L572.7 1097.0L575.7 1096.7L578.8 1096.4L581.8 1096.1L584.8 1095.7 M620.2 1092.1L623.3 1091.8L626.4 1091.5L629.4 1091.2L632.5 1090.9L635.5 1090.5L638.6 1090.2L641.6 1089.9L644.7 1089.6L647.7 1089.3L650.8 1089.0L653.8 1088.7 M691.0 1084.9L694.0 1084.6L697.0 1084.3L700.0 1084.0L703.0 1083.7L706.0 1083.4L709.0 1083.1L712.0 1082.8L715.0 1082.5L718.0 1082.2L721.0 1081.9L724.0 1081.6L727.0 1081.3 M773.0 1076.9L776.0 1076.6L779.0 1076.3L782.1 1076.0L785.1 1075.7L788.2 1075.4L791.2 1075.2L794.3 1074.9L797.3 1074.6L800.3 1074.3 M845.8 1070.1L848.8 1069.8L851.8 1069.5L854.8 1069.3L857.9 1069.0L860.9 1068.7L863.9 1068.4L866.9 1068.2L870.0 1067.9L873.0 1067.6L876.0 1067.3L879.0 1067.1 M914.2 1063.9L917.3 1063.6L920.5 1063.3L923.7 1063.0L926.9 1062.7L930.1 1062.4L933.2 1062.2L936.4 1061.9L939.6 1061.6L942.8 1061.3L946.0 1061.0L949.1 1060.7 M992.9 1054.5L996.0 1053.9L999.2 1053.2L1002.3 1052.5L1005.5 1051.7L1008.6 1050.9L1011.8 1050.1L1014.9 1049.2L1018.1 1048.2L1021.2 1047.2 M1051.5 1035.9L1054.9 1034.5L1058.2 1032.9L1061.7 1031.4L1065.0 1029.8L1068.5 1028.1L1071.8 1026.4L1075.2 1024.7 M1104.5 1008.7L1107.9 1006.6L1111.3 1004.5L1114.8 1002.5L1118.2 1000.3L1121.6 998.2L1125.0 996.0 M1152.0 978.5L1155.5 976.2L1159.0 973.8L1162.6 971.5L1166.1 969.2L1169.6 966.8 M1194.5 951.0L1197.9 949.0L1201.2 946.9L1204.7 944.9L1208.0 942.9L1211.5 940.9L1214.8 939.0L1218.2 937.1 M1245.4 923.2L1248.5 921.7L1251.7 920.3L1254.8 918.8L1258.0 917.4L1261.1 916.0L1264.2 914.6L1267.4 913.2L1270.5 911.9L1273.7 910.6L1276.8 909.3 M1304.8 898.6L1307.9 897.5L1311.1 896.4L1314.2 895.3L1317.4 894.3L1320.6 893.2L1323.7 892.2L1326.9 891.2L1330.0 890.2 M1360.2 881.3L1363.7 880.4L1367.0 879.5L1370.5 878.6L1373.8 877.7L1377.2 876.8L1380.6 876.0L1384.0 875.1 M1417.4 867.4L1420.4 866.8L1423.4 866.2L1426.4 865.6L1429.4 865.0L1432.4 864.4L1435.4 863.8L1438.4 863.2L1441.4 862.6L1444.4 862.1L1447.4 861.5L1450.4 861.0L1453.4 860.4L1456.4 859.9L1459.4 859.4L1462.4 858.9L1465.5 858.4 M1505.0 852.6L1508.3 852.2L1511.5 851.8L1514.7 851.4L1517.9 851.1L1521.1 850.7L1524.3 850.3L1527.5 850.0L1530.7 849.7L1534.0 849.3 M1583.2 845.5L1586.5 845.3L1589.8 845.2L1593.1 845.0L1596.4 844.8L1599.7 844.7L1603.0 844.6L1606.3 844.4L1609.6 844.3L1613.0 844.2 M1667.0 843.7L1670.0 843.8L1673.0 843.8L1676.0 843.9L1679.0 843.9L1682.0 844.0L1685.0 844.1L1688.0 844.2L1691.0 844.2L1694.0 844.3L1697.0 844.4L1700.0 844.6" stroke="#00f" stroke-width="8.90"/>
</g>
<path d="M291.1 80.0 L459.4 80.0" stroke="#000" stroke-width="9.20" stroke-linecap="round" fill="none"/>
<path d="M291.1 172.2 L327.0 172.2 M376.0 172.2 L412.1 172.2" stroke="#000" stroke-width="9.20" stroke-linecap="round" fill="none"/>
<path d="M291.2 288.1 L459.3 288.1" stroke="#f00" stroke-width="9.40" stroke-linecap="round" fill="none"/>
<path d="M291.1 380.3 L459.4 380.3" stroke="#00f" stroke-width="9.20" stroke-linecap="round" fill="none"/>
<path d="M290.6 473.4 L327.5 473.4 M375.5 473.4 L412.6 473.4" stroke="#f00" stroke-width="8.30" stroke-linecap="round" fill="none"/>
<path d="M290.7 589.0 L327.4 589.0 M375.6 589.0 L412.5 589.0" stroke="#00f" stroke-width="8.40" stroke-linecap="round" fill="none"/>
<text transform="translate(250.90 1322.90) scale(1 1.0450)" font-size="53.00" text-anchor="middle">250</text>
<text transform="translate(522.30 1322.90) scale(1 1.0450)" font-size="53.00" text-anchor="middle">300</text>
<text transform="translate(793.70 1322.90) scale(1 1.0450)" font-size="53.00" text-anchor="middle">350</text>
<text transform="translate(1065.10 1322.90) scale(1 1.0450)" font-size="53.00" text-anchor="middle">400</text>
<text transform="translate(1336.50 1322.90) scale(1 1.0450)" font-size="53.00" text-anchor="middle">450</text>
<text transform="translate(1607.90 1322.90) scale(1 1.0450)" font-size="53.00" text-anchor="middle">500</text>
<text transform="translate(1879.30 1322.90) scale(1 1.0450)" font-size="53.00" text-anchor="middle">550</text>
<text transform="translate(210.20 1257.90) scale(1 1.0450)" font-size="53.00" text-anchor="end">0</text>
<text transform="translate(210.20 914.07) scale(1 1.0450)" font-size="53.00" text-anchor="end">5</text>
<text transform="translate(210.20 570.24) scale(1 1.0450)" font-size="53.00" text-anchor="end">10</text>
<text transform="translate(210.20 226.41) scale(1 1.0450)" font-size="53.00" text-anchor="end">15</text>
<text transform="translate(473.40 105.60) scale(1 1.0450)" font-size="53.00" text-anchor="start">PMDA-ODA</text>
<text transform="translate(473.40 198.30) scale(1 1.0450)" font-size="53.00" text-anchor="start">PMDA-ODA/CeO<tspan font-size="53.00" dx="-0.80" dy="24.69">2</tspan></text>
<text transform="translate(473.40 314.00) scale(1 1.0450)" font-size="53.00" text-anchor="start">PMDA-ODA/CNC(3vol%)</text>
<text transform="translate(473.40 406.80) scale(1 1.0450)" font-size="53.00" text-anchor="start">PMDA-ODA/CNF(5vol%)</text>
<text transform="translate(473.40 498.50) scale(1 1.0450)" font-size="53.00" text-anchor="start">PMDA-ODA/CNC(3vol%)/CeO<tspan font-size="53.00" dx="-0.80" dy="24.69">2</tspan></text>
<text transform="translate(473.40 614.20) scale(1 1.0450)" font-size="53.00" text-anchor="start">PMDA-ODA/CNF(5vol%)/CeO<tspan font-size="53.00" dx="-0.80" dy="24.69">2</tspan></text>
<text transform="translate(1026.50 1403.80) scale(1 1.0450)" font-size="69.00">T, <tspan font-size="43.00" dy="-31.96">0</tspan><tspan dy="31.96">C</tspan></text>
<text transform="translate(88.50 164.00) rotate(-90) scale(1 1.0450)" font-size="69.00"><tspan class="sym" font-size="72.00">ε</tspan>, %</text>
</svg></body></html>
